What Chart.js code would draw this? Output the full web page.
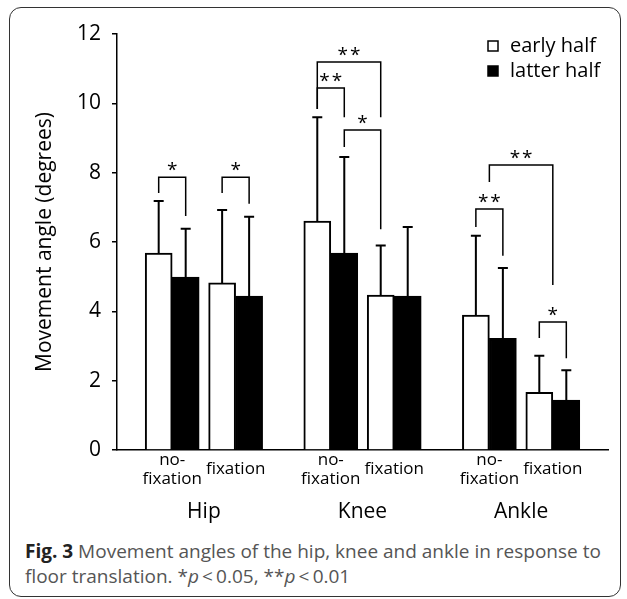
<!DOCTYPE html>
<html>
<head>
<meta charset="utf-8">
<script src="https://cdn.jsdelivr.net/npm/chart.js@4.4.1/dist/chart.umd.min.js"></script>
<style>
  html, body { margin: 0; padding: 0; background: #fff; }
  body { width: 627px; height: 599px; position: relative; overflow: hidden; font-family: "Open Sans", sans-serif; }
  #frame { position: absolute; left: 9px; top: 7px; width: 612px; height: 590px; box-sizing: border-box;
           border: 1.5px solid #333; border-radius: 12px; }
  #wrap { position: absolute; left: 0; top: 0; width: 627px; height: 530px; }
  #caption { position: absolute; left: 25px; top: 539px; font-size: 19px; line-height: 25px; color: #555;
             white-space: nowrap; }
  #caption b { color: #222; }
</style>
</head>
<body>
<div id="frame"></div>
<div id="wrap"><canvas id="chart"></canvas></div>
<div id="caption"><b>Fig. 3</b> Movement angles of the hip, knee and ankle in response to<br>floor translation. *<i>p</i>&thinsp;&lt;&thinsp;0.05, **<i>p</i>&thinsp;&lt;&thinsp;0.01</div>
<script>
// Data
const joints = ['Hip', 'Knee', 'Ankle'];
const conditions = [['no-', 'fixation'], 'fixation'];
const seriesLabels = ['early half', 'latter half'];
const earlyMean = [5.68, 4.82, 6.60, 4.47, 3.89, 1.66];
const earlySD = [1.50, 2.10, 3.00, 1.43, 2.29, 1.06];
const latterMean = [4.99, 4.44, 5.68, 4.44, 3.22, 1.44];
const latterSD = [1.39, 2.29, 2.77, 1.99, 2.03, 0.86];
const yTicks = [0, 2, 4, 6, 8, 10, 12];

// Significance brackets: [from bar, to bar, top, left end, right end, label]
// a bar is [condition index, series index]; series 0.5 = middle of the pair
const brackets = [
  [[0, 0], [0, 1], 7.87, 7.41, 6.75, '*'],
  [[1, 0], [1, 1], 7.87, 7.41, 7.10, '*'],
  [[2, 0], [3, 0], 11.19, 9.84, 9.60, '**'],
  [[2, 0], [2, 1], 10.44, 9.84, 9.60, '**'],
  [[2, 1], [3, 0], 9.23, 8.74, 6.37, '*'],
  [[4, 0], [4, 1], 6.95, 6.43, 5.60, '**'],
  [[4, 0.5], [5, 0.5], 8.22, 7.73, 4.76, '**'],
  [[5, 0], [5, 1], 3.69, 3.23, 2.65, '*']
];

const BAR_W = 27;
const FONT = '"Open Sans", sans-serif';

// conditions sit in pairs per joint, with a wider gap between joints
const condX = [];
joints.forEach((j, ji) => conditions.forEach((c, ci) => condX.push(1 + ji * 2.5 + ci)));
const condLabels = condX.map((x, i) => conditions[i % conditions.length]);
const jointX = joints.map((j, ji) => 1.5 + ji * 2.5);
const X_MIN = 0.13, X_MAX = 7.87;

const toPoints = (vals) => vals.map((v, i) => ({x: condX[i], y: v}));

function barPixel(xScale, bar) {
  return xScale.getPixelForValue(condX[bar[0]]) + (bar[1] - 0.5) * BAR_W;
}

const annotations = {
  id: 'annotations',
  afterDatasetsDraw(chart) {
    const {ctx, scales: {x, y}} = chart;
    ctx.save();
    ctx.strokeStyle = '#000';
    ctx.fillStyle = '#000';

    // error bars (upper half only)
    ctx.lineWidth = 2;
    [[earlyMean, earlySD], [latterMean, latterSD]].forEach(([means, sds], s) => {
      means.forEach((m, i) => {
        const px = barPixel(x, [i, s]);
        const y0 = y.getPixelForValue(m);
        const y1 = y.getPixelForValue(m + sds[i]);
        ctx.beginPath();
        ctx.moveTo(px, y0);
        ctx.lineTo(px, y1);
        ctx.moveTo(px - 5, y1);
        ctx.lineTo(px + 5, y1);
        ctx.stroke();
      });
    });

    // significance brackets
    ctx.lineWidth = 1.5;
    ctx.font = '19px ' + FONT;
    ctx.textAlign = 'center';
    ctx.textBaseline = 'alphabetic';
    ctx.letterSpacing = '2px';
    brackets.forEach(([a, b, top, l, r, label]) => {
      const xa = barPixel(x, a), xb = barPixel(x, b);
      const yt = y.getPixelForValue(top);
      ctx.beginPath();
      ctx.moveTo(xa, y.getPixelForValue(l));
      ctx.lineTo(xa, yt);
      ctx.lineTo(xb, yt);
      ctx.lineTo(xb, y.getPixelForValue(r));
      ctx.stroke();
      ctx.fillText(label, (xa + xb) / 2 + 1, yt - 1);
    });
    ctx.letterSpacing = '0px';

    // legend, top right inside the plot
    ctx.font = '20px ' + FONT;
    ctx.textAlign = 'left';
    ctx.textBaseline = 'middle';
    chart.data.datasets.forEach((ds, i) => {
      const cy = 46 + i * 25;
      ctx.fillStyle = ds.backgroundColor;
      ctx.fillRect(488, cy - 5, 10, 10);
      ctx.lineWidth = 1.5;
      ctx.strokeRect(488, cy - 5, 10, 10);
      ctx.fillStyle = '#000';
      ctx.fillText(ds.label, 510, cy);
    });
    ctx.restore();
  }
};

new Chart(document.getElementById('chart'), {
  type: 'bar',
  data: {
    datasets: [
      {label: seriesLabels[0], data: toPoints(earlyMean), backgroundColor: '#fff', borderColor: '#000', borderWidth: 2},
      {label: seriesLabels[1], data: toPoints(latterMean), backgroundColor: '#000', borderColor: '#000', borderWidth: 2}
    ]
  },
  options: {
    responsive: true,
    maintainAspectRatio: false,
    animation: false,
    barThickness: BAR_W,
    layout: {padding: {top: 34, right: 19, left: 0, bottom: 4}},
    plugins: {legend: {display: false}, tooltip: {enabled: false}},
    scales: {
      y: {
        min: 0, max: 12,
        afterBuildTicks: (s) => { s.ticks = yTicks.map(v => ({value: v})); },
        afterFit: (s) => { s.width = 117; },
        ticks: {color: '#000', padding: 11, font: {family: FONT, size: 21}},
        grid: {drawOnChartArea: false, drawTicks: true, tickLength: 5, color: '#000', lineWidth: 1.5},
        border: {display: true, color: '#000', width: 1.5},
        title: {display: true, text: 'Movement angle (degrees)', color: '#000',
                font: {family: FONT, size: 21}, padding: {top: 32, bottom: 0}}
      },
      x: {
        type: 'linear', min: X_MIN, max: X_MAX, offset: false,
        afterBuildTicks: (s) => { s.ticks = condX.map(v => ({value: v})); },
        afterFit: (s) => { s.height = 46; },
        ticks: {color: '#000', padding: 10, maxRotation: 0, autoSkip: false, crossAlign: 'center',
                font: {family: FONT, size: 17, lineHeight: 1.1},
                callback: (v, i) => condLabels[i]},
        grid: {display: false, drawTicks: false},
        border: {display: true, color: '#000', width: 1.5}
      },
      x2: {
        type: 'linear', position: 'bottom', weight: 1, min: X_MIN, max: X_MAX, offset: false,
        afterBuildTicks: (s) => { s.ticks = jointX.map(v => ({value: v})); },
        afterFit: (s) => { s.height = 30; },
        ticks: {color: '#000', padding: 3, maxRotation: 0, autoSkip: false,
                font: {family: FONT, size: 21},
                callback: (v, i) => joints[i]},
        grid: {display: false, drawTicks: false},
        border: {display: false}
      }
    }
  },
  plugins: [annotations]
});
</script>
</body>
</html>
